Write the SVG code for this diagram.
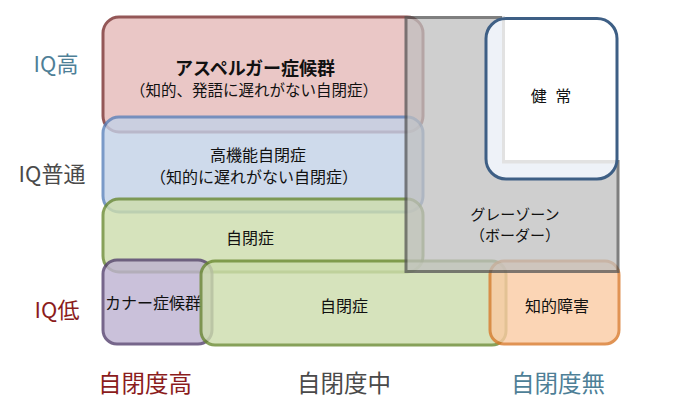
<svg xmlns="http://www.w3.org/2000/svg" width="689" height="420" viewBox="0 0 689 420">
<style>
text{font-family:"Noto Sans CJK JP","Noto Sans",sans-serif;text-anchor:middle;fill:#111;}
.t16{font-size:16px;}
.t15{font-size:15px;}
.ax{font-size:22px;}
.bx{font-size:23.5px;}
.box{opacity:0.8;stroke-width:3;}
.red{fill:#e6bab9;stroke:#7a2e2e;}
.blue{fill:#c3d1e7;stroke:#5a82bb;}
.green{fill:#cdddac;stroke:#6a8a30;}
.purple{fill:#beb2d1;stroke:#54406f;}
.orange{fill:#fbcba3;stroke:#d9792a;}
.cHigh{fill:#8b1c1c;}
.cMid{fill:#4a4a4a;}
.cNone{fill:#4e7f97;}
</style>
<rect width="689" height="420" fill="#fff"/>
<g id="asperger">
<rect class="box red" x="103" y="17" width="320" height="115" rx="16"/>
<text x="255" y="75" style="font-size:18px;font-weight:bold">アスペルガー症候群</text>
<text x="254" y="96" style="font-size:15.5px">（知的、発語に遅れがない自閉症）</text>
</g>
<g id="hfa">
<rect class="box blue" x="103" y="117" width="320" height="95" rx="16"/>
<text class="t16" x="258" y="161">高機能自閉症</text>
<text class="t16" x="254" y="183">（知的に遅れがない自閉症）</text>
</g>
<g id="autism-top">
<rect class="box green" x="103" y="199" width="320" height="73" rx="16"/>
<text class="t16" x="250" y="244">自閉症</text>
</g>
<g id="kanner">
<rect class="box purple" x="103" y="260" width="109" height="84" rx="14"/>
<text class="t16" x="153" y="309">カナー症候群</text>
</g>
<g id="autism-bottom">
<rect class="box green" x="201" y="261" width="305" height="84" rx="14"/>
<text class="t16" x="344" y="311.5">自閉症</text>
</g>
<g id="intellectual">
<rect class="box orange" x="490" y="261" width="129" height="83" rx="14"/>
<text class="t16" x="557" y="312">知的障害</text>
</g>
<g id="grayzone">
<rect x="406" y="17.5" width="212" height="254" fill="#c0c0c0" stroke="#555" stroke-width="3" opacity="0.75"/>
<text class="t15" x="515" y="220">グレーゾーン</text>
<text class="t15" x="515" y="241">（ボーダー）</text>
</g>
<g id="healthy">
<rect x="486" y="18.5" width="131" height="160.5" rx="20" fill="#eef2f8"/>
<rect x="502" y="16" width="116" height="147.5" fill="#e2e2e2"/>
<rect x="505" y="14" width="115" height="146" fill="#fff"/>
<rect x="486" y="18.5" width="131" height="160.5" rx="20" fill="none" stroke="#3e5f85" stroke-width="3"/>
<text class="t16" x="551" y="102" xml:space="preserve" word-spacing="5">健 常</text>
</g>
<g id="axis-labels">
<text class="ax cNone" x="56" y="71.5">IQ高</text>
<text class="ax cMid" x="52" y="181.5">IQ普通</text>
<text class="ax cHigh" x="57" y="317.5">IQ低</text>
<text class="bx cHigh" x="145" y="392">自閉度高</text>
<text class="bx cMid" x="344" y="392">自閉度中</text>
<text class="bx cNone" x="558" y="392">自閉度無</text>
</g>
</svg>
